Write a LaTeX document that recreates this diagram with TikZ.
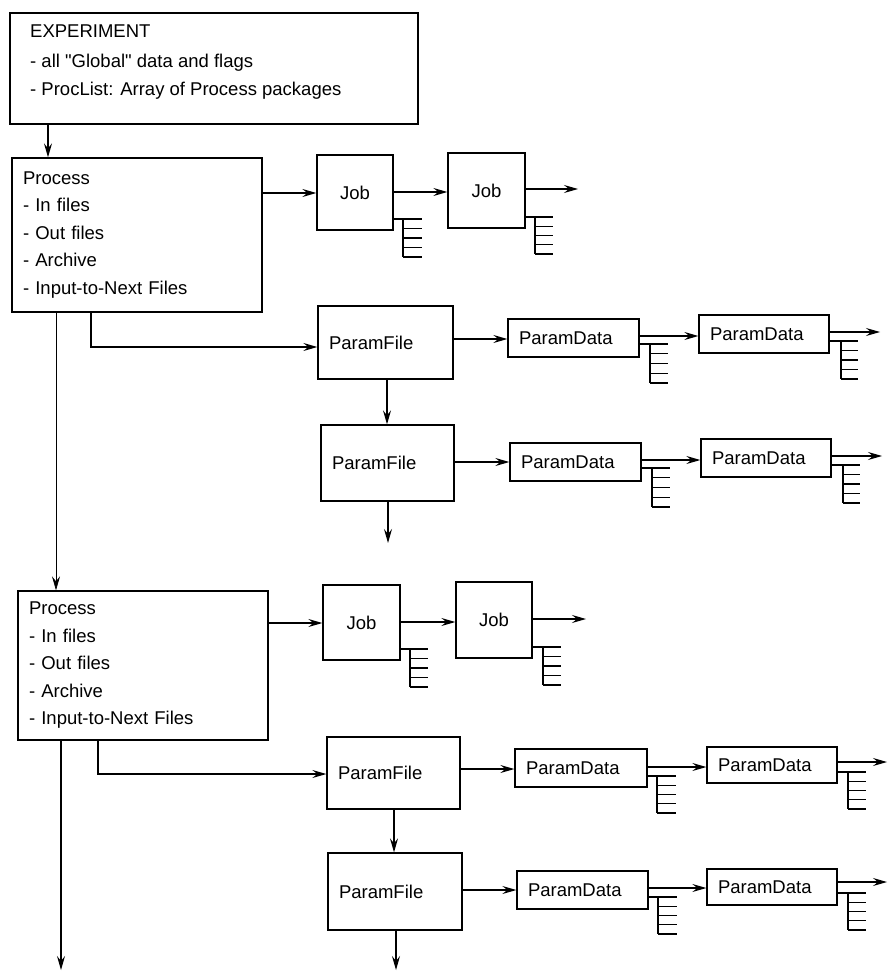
\documentclass[tikz,border=0pt]{standalone}
\usepackage{fontspec}
\newfontfamily\diagfont{Liberation Sans}
\usetikzlibrary{arrows.meta}
\newcommand\mybox[6]{%
  \pgfmathsetmacro\myW{#4-#2}\pgfmathsetmacro\myH{#5-#3}%
  \pgfmathsetmacro\myX{(#2+#4)/2}\pgfmathsetmacro\myY{(#3+#5)/2}%
  \pgfmathsetmacro\myT{#4-#2-22}%
  \node[#6, minimum width=\myW pt, minimum height=\myH pt, text width=\myT pt] (#1) at (\myX,\myY)}
% comb: left x, top y, vertical x, right x, bottom y
\newcommand\comb[5]{%
  \draw[combline] (#1,#2) -- (#4,#2) (#3,#2) -- (#3,#5);
  \foreach \k in {1,...,4}{\draw[combline] (#3,{#2+\k*(#5-#2)/4}) -- (#4,{#2+\k*(#5-#2)/4});}}
\begin{document}
\begin{tikzpicture}[x=1pt,y=-1pt,
  every node/.style={font=\diagfont\fontsize{18.5}{27.5}\selectfont},
  box/.style={draw, line width=1.3pt, rectangle, inner xsep=11pt, inner ysep=0pt, align=left},
  cbox/.style={box, align=center},
  conn/.style={line width=1.2pt},
  tip/.style={-{Stealth[length=14pt,width=8pt,inset=5pt]}},
  faint/.style={line width=0.7pt, tip},
  arr/.style={conn, tip},
  combline/.style={line width=1.2pt}]
\useasboundingbox (0,0) rectangle (887,973);

% boxes
\mybox{exp}{10}{13}{418}{124}{box}{};
\node[anchor=west, align=left, inner sep=0pt] (exptext) at (30,62)
  {EXPERIMENT\\[2.5pt]- all "Global" data and flags\\- ProcList: Array of Process packages};

\mybox{proc1}{12}{158}{262}{312}{box}{Process\\- In files\\- Out files\\- Archive\\- Input-to-Next Files};
\mybox{job1}{317}{155}{393}{230}{cbox}{Job};
\mybox{job2}{448}{153}{525}{228}{cbox}{Job};
\mybox{pf1}{318}{306}{453}{379}{box}{ParamFile};
\mybox{pd1}{508}{319}{639}{357}{box}{ParamData};
\mybox{pd2}{699}{315}{829}{353}{box}{ParamData};
\mybox{pf2}{321}{425}{454}{501}{box}{ParamFile};
\mybox{pd3}{510}{443}{641}{481}{box}{ParamData};
\mybox{pd4}{701}{439}{831}{477}{box}{ParamData};

\mybox{proc2}{18}{591}{268}{740}{box}{Process\\- In files\\- Out files\\- Archive\\- Input-to-Next Files};
\mybox{job3}{323}{585}{400}{660}{cbox}{Job};
\mybox{job4}{456}{582}{532}{658}{cbox}{Job};
\mybox{pf3}{327}{737}{460}{809}{box}{ParamFile};
\mybox{pd5}{515}{749}{647}{787}{box}{ParamData};
\mybox{pd6}{707}{747}{837}{783}{box}{ParamData};
\mybox{pf4}{328}{853}{462}{930}{box}{ParamFile};
\mybox{pd7}{517}{871}{648}{909}{box}{ParamData};
\mybox{pd8}{707}{869}{837}{905}{box}{ParamData};

% free ends
\coordinate (o1) at (578,189);
\coordinate (o2) at (880,332);
\coordinate (o3) at (882,456);
\coordinate (o4) at (388,543);
\coordinate (o5) at (586,619);
\coordinate (o6) at (887,762);
\coordinate (o7) at (887,882);
\coordinate (o8) at (396,970);
\coordinate (o9) at (61,970);

% connectors, first process
\draw[arr] (exp.south -| 48,0) -- (proc1.north -| 48,0);
\draw[arr] (proc1.east |- 0,193) -- (job1.west |- 0,193);
\draw[arr] (job1.east |- 0,192) -- (job2.west |- 0,192);
\draw[arr] (job2.east |- o1) -- (o1);
\draw[arr] (proc1.south -| 91,0) -- (91,347) -- (pf1.west |- 0,347);
\draw[arr] (pf1.east |- 0,339) -- (pd1.west |- 0,339);
\draw[arr] (pd1.east |- 0,336) -- (pd2.west |- 0,336);
\draw[arr] (pd2.east |- o2) -- (o2);
\draw[arr] (pf1.south -| 387,0) -- (pf2.north -| 387,0);
\draw[arr] (pf2.east |- 0,462) -- (pd3.west |- 0,462);
\draw[arr] (pd3.east |- 0,460) -- (pd4.west |- 0,460);
\draw[arr] (pd4.east |- o3) -- (o3);
\draw[arr] (pf2.south -| o4) -- (o4);
\draw[faint] (proc1.south -| 56,0) -- (proc2.north -| 56,0);

% connectors, second process
\draw[arr] (proc2.east |- 0,623) -- (job3.west |- 0,623);
\draw[arr] (job3.east |- 0,622) -- (job4.west |- 0,622);
\draw[arr] (job4.east |- o5) -- (o5);
\draw[arr] (proc2.south -| 98,0) -- (98,774) -- (pf3.west |- 0,774);
\draw[arr] (pf3.east |- 0,769) -- (pd5.west |- 0,769);
\draw[arr] (pd5.east |- 0,767) -- (pd6.west |- 0,767);
\draw[arr] (pd6.east |- o6) -- (o6);
\draw[arr] (pf3.south -| 394,0) -- (pf4.north -| 394,0);
\draw[arr] (pf4.east |- 0,890) -- (pd7.west |- 0,890);
\draw[arr] (pd7.east |- 0,888) -- (pd8.west |- 0,888);
\draw[arr] (pd8.east |- o7) -- (o7);
\draw[arr] (pf4.south -| o8) -- (o8);
\draw[arr] (proc2.south -| o9) -- (o9);

% combs
\comb{393}{219}{403}{422}{257}
\comb{525}{217}{535}{553}{254}
\comb{639}{344}{650}{668}{383}
\comb{829}{341}{841}{858}{379}
\comb{641}{468}{652}{670}{507}
\comb{831}{465}{843}{860}{503}
\comb{400}{649}{410}{428}{687}
\comb{532}{647}{543}{561}{685}
\comb{647}{776}{657}{676}{813}
\comb{837}{772}{848}{866}{809}
\comb{648}{897}{658}{677}{934}
\comb{837}{893}{848}{866}{930}
\end{tikzpicture}
\end{document}
